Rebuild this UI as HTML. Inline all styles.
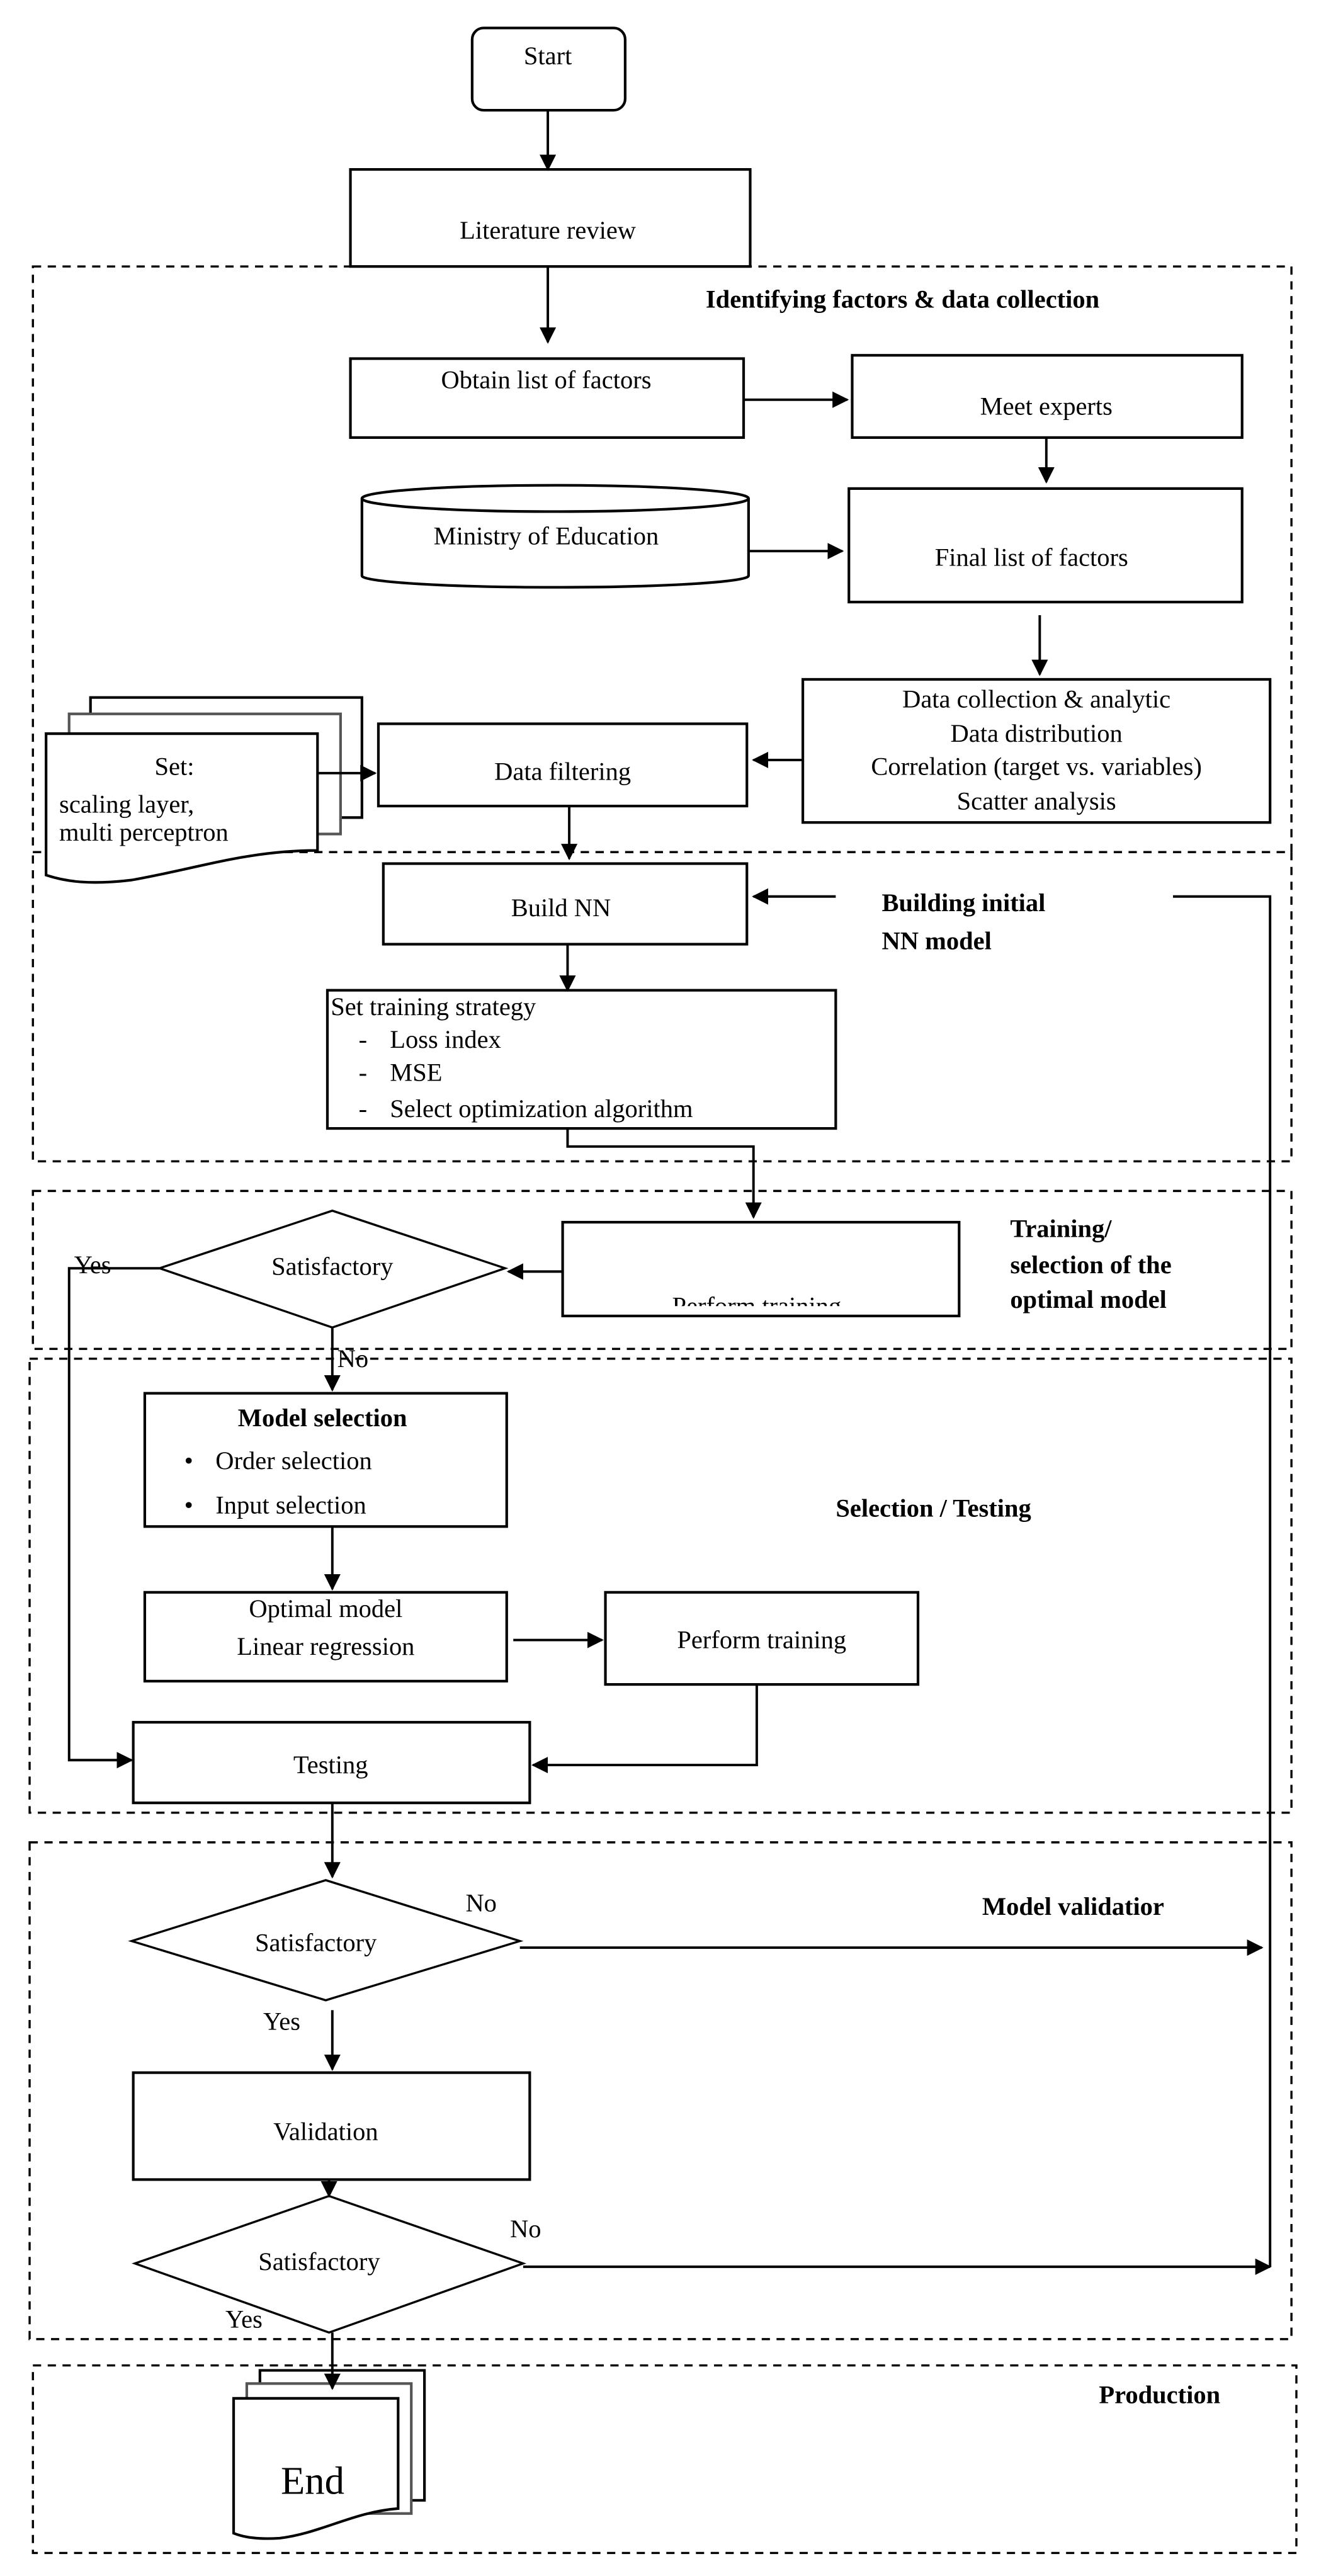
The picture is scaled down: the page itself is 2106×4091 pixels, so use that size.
<!DOCTYPE html>
<html><head><meta charset="utf-8"><style>
html,body{margin:0;padding:0;background:#fff}
svg{display:block}
text{font-family:"Liberation Serif",serif;font-size:15.5px;fill:#000}
.b{font-weight:bold}
</style></head><body>
<svg width="2106" height="4091" viewBox="0 0 806 1566" preserveAspectRatio="none" xmlns="http://www.w3.org/2000/svg">
<defs><marker id="a" markerWidth="10" markerHeight="10" refX="9" refY="5" orient="auto" markerUnits="userSpaceOnUse"><path d="M0,0 L10,5 L0,10 z" fill="#000"/></marker>
<clipPath id="pc"><rect x="342" y="743" width="241" height="51"/></clipPath></defs>
<g fill="none" stroke="#000" stroke-width="1.3" stroke-dasharray="5,4">
<rect x="20" y="162" width="765" height="356"/>
<rect x="20" y="518" width="765" height="188"/>
<rect x="20" y="724" width="765" height="96"/>
<rect x="18" y="826" width="767" height="276"/>
<rect x="18" y="1120" width="767" height="302"/>
<rect x="20" y="1438" width="768" height="114"/>
</g>
<g fill="#fff" stroke="#000" stroke-width="1.6">
<rect x="287" y="17" width="93" height="50" rx="7"/>
<rect x="213" y="103" width="243" height="59"/>
<rect x="213" y="218" width="239" height="48"/>
<rect x="518" y="216" width="237" height="50"/>
<path d="M220,303 L220,350 A117,7 0 0 0 455,350 L455,303"/>
<ellipse cx="337.5" cy="303" rx="117.5" ry="8"/>
<rect x="516" y="297" width="239" height="69"/>
<rect x="488" y="413" width="284" height="87"/>
<rect x="230" y="440" width="224" height="50"/>
<path d="M55,424 H220 V497 H55 Z"/>
<path d="M42,434 H207 V507 H42 Z" stroke="#555"/>
<path d="M28,446 H193 V517 C150,517 120,528 80,535 C55,538 40,536 28,532 Z"/>
<rect x="233" y="525" width="221" height="49"/>
<rect x="199" y="602" width="309" height="84"/>
<rect x="342" y="743" width="241" height="57"/>
<path d="M97,771 L202,736 L307,771 L202,807 Z" stroke-width="1.3"/>
<rect x="88" y="847" width="220" height="81"/>
<rect x="88" y="968" width="220" height="54"/>
<rect x="368" y="968" width="190" height="56"/>
<rect x="81" y="1047" width="241" height="49"/>
<path d="M80,1180 L198,1143 L316,1180 L198,1216 Z" stroke-width="1.3"/>
<rect x="81" y="1260" width="241" height="65"/>
<path d="M82,1376 L200,1335 L318,1376 L200,1418 Z" stroke-width="1.3"/>
<path d="M158,1441 H258 V1520 H158 Z"/>
<path d="M150,1449 H250 V1528 H150 Z" stroke="#555"/>
<path d="M142,1458 H242 V1525 C215,1527 195,1540 170,1543 C155,1544 147,1542 142,1540 Z"/>
</g>
<g fill="none" stroke="#000" stroke-width="1.5" marker-end="url(#a)">
<path d="M333,67 V103"/>
<path d="M333,162 V208"/>
<path d="M452,243 H515"/>
<path d="M636,266 V293"/>
<path d="M455,335 H512"/>
<path d="M632,374 V410"/>
<path d="M488,462 H458"/>
<path d="M193,470 H228"/>
<path d="M346,490 V522"/>
<path d="M508,545 H458"/>
<path d="M345,574 V602"/>
<path d="M345,686 V697 H458 V740"/>
<path d="M342,773 H309"/>
<path d="M97,771 H42 V1070 H80"/>
<path d="M202,807 V845"/>
<path d="M202,928 V966"/>
<path d="M312,997 H366"/>
<path d="M460,1024 V1073 H324"/>
<path d="M202,1096 V1141"/>
<path d="M316,1184 H767"/>
<path d="M202,1222 V1258"/>
<path d="M200,1325 V1335"/>
<path d="M318,1378 H772"/>
<path d="M202,1418 V1452"/>
</g>
<path d="M713,545 H772 V1378" fill="none" stroke="#000" stroke-width="1.5"/>
<g text-anchor="middle">
<text x="333" y="39">Start</text>
<text x="333" y="145">Literature review</text>
<text x="332" y="236">Obtain list of factors</text>
<text x="636" y="252">Meet experts</text>
<text x="332" y="331">Ministry of Education</text>
<text x="627" y="344">Final list of factors</text>
<text x="630" y="430">Data collection &amp; analytic</text>
<text x="630" y="451">Data distribution</text>
<text x="630" y="471">Correlation (target vs. variables)</text>
<text x="630" y="492">Scatter analysis</text>
<text x="342" y="474">Data filtering</text>
<text x="106" y="471">Set:</text>
<text x="341" y="557">Build NN</text>
<text x="460" y="799" clip-path="url(#pc)">Perform training</text>
<text x="202" y="775">Satisfactory</text>
<text x="196" y="867" class="b">Model selection</text>
<text x="198" y="983">Optimal model</text>
<text x="198" y="1006">Linear regression</text>
<text x="463" y="1002">Perform training</text>
<text x="201" y="1078">Testing</text>
<text x="192" y="1186">Satisfactory</text>
<text x="198" y="1301">Validation</text>
<text x="194" y="1380">Satisfactory</text>
</g>
<text x="36" y="494">scaling layer,</text>
<text x="36" y="511">multi perceptron</text>
<text x="201" y="617">Set training strategy</text>
<text x="218" y="637">-</text><text x="237" y="637">Loss index</text>
<text x="218" y="657">-</text><text x="237" y="657">MSE</text>
<text x="218" y="679">-</text><text x="237" y="679">Select optimization algorithm</text>
<text x="112" y="893">•</text><text x="131" y="893">Order selection</text>
<text x="112" y="920">•</text><text x="131" y="920">Input selection</text>
<text x="429" y="187" class="b">Identifying factors &amp; data collection</text>
<text x="536" y="554" class="b">Building initial</text>
<text x="536" y="577" class="b">NN model</text>
<text x="614" y="752" class="b">Training/</text>
<text x="614" y="774" class="b">selection of the</text>
<text x="614" y="795" class="b">optimal model</text>
<text x="508" y="922" class="b">Selection / Testing</text>
<text x="597" y="1164" class="b">Model validatior</text>
<text x="668" y="1461" class="b">Production</text>
<text x="45" y="774">Yes</text>
<text x="205" y="831">No</text>
<text x="283" y="1162">No</text>
<text x="160" y="1234">Yes</text>
<text x="310" y="1360">No</text>
<text x="137" y="1415">Yes</text>
<text x="190" y="1516" text-anchor="middle" style="font-size:24px">End</text>
</svg>
</body></html>
